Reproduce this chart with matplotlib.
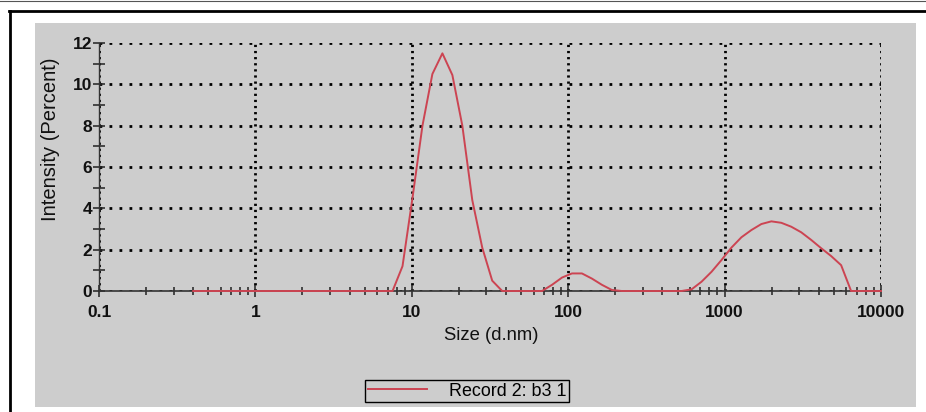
import matplotlib
matplotlib.use("Agg")
import matplotlib.pyplot as plt
from matplotlib.lines import Line2D
from matplotlib.patches import Rectangle
from matplotlib.ticker import FixedLocator, NullFormatter, MultipleLocator

plt.rcParams['font.family'] = ['Liberation Sans', 'DejaVu Sans']

# size bins (d.nm) and intensity (%)
sizes = [0.4, 0.4632, 0.5365, 0.6213, 0.7195, 0.8332, 0.9649, 1.117, 1.294, 1.499,
         1.736, 2.010, 2.328, 2.696, 3.122, 3.615, 4.187, 4.849, 5.615, 6.503,
         7.531, 8.721, 10.10, 11.70, 13.54, 15.69, 18.17, 21.04, 24.36, 28.21,
         32.67, 37.84, 43.82, 50.75, 58.77, 68.06, 78.82, 91.28, 105.7, 122.4,
         141.8, 164.2, 190.1, 220.2, 255.0, 295.3, 342.0, 396.1, 458.7, 531.2,
         615.1, 712.4, 825.0, 955.4, 1106, 1281, 1484, 1718, 1990, 2305,
         2669, 3091, 3580, 4145, 4801, 5560, 6439, 7456, 8635, 10000]
intensity = [0, 0, 0, 0, 0, 0, 0, 0, 0, 0,
             0, 0, 0, 0, 0, 0, 0, 0, 0, 0,
             0, 1.2, 4.5, 8.0, 10.5, 11.5, 10.45, 8.0, 4.4, 2.1,
             0.5, 0, 0, 0, 0, 0, 0.3, 0.65, 0.85, 0.85,
             0.6, 0.3, 0.05, 0, 0, 0, 0, 0, 0, 0,
             0.08, 0.45, 0.93, 1.5, 2.1, 2.6, 2.95, 3.24, 3.37, 3.3,
             3.11, 2.84, 2.47, 2.07, 1.69, 1.25, 0, 0, 0, 0]
series_name = "Record 2: b3 1"
x_ticks = [0.1, 1, 10, 100, 1000, 10000]
x_ticklabels = ["0.1", "1", "10", "100", "1000", "10000"]

W, H = 926, 412
fig = plt.figure(figsize=(W / 100, H / 100), dpi=100)
fig.patch.set_facecolor('white')

grey = '#cdcdcd'
# grey panel behind the axes
fig.patches.append(Rectangle((35 / W, 1 - 407 / H), (916 - 35) / W, (407 - 23) / H,
                             transform=fig.transFigure, facecolor=grey, edgecolor='none',
                             zorder=-5))
# outer frame lines
fig.lines.append(Line2D([9 / W, 1], [1 - 11 / H, 1 - 11 / H], transform=fig.transFigure,
                        color='black', lw=2.0, zorder=-4))
fig.lines.append(Line2D([9.5 / W, 9.5 / W], [0, 1 - 11 / H], transform=fig.transFigure,
                        color='black', lw=2.0, zorder=-4))
fig.lines.append(Line2D([0, 1], [1 - 1 / H, 1 - 1 / H], transform=fig.transFigure,
                        color='#555555', lw=0.8, zorder=-4))

ax = fig.add_axes([99 / W, 1 - 291 / H, (881 - 99) / W, (291 - 43) / H])
ax.set_facecolor(grey)
ax.set_xscale('log')
ax.set_xlim(0.1, 10000)
ax.set_ylim(0, 12)

line, = ax.plot(sizes, intensity, color='#cc4452', lw=1.4, zorder=3, clip_on=False)

ax.set_xticks(x_ticks)
ax.set_xticklabels(x_ticklabels)
ax.xaxis.set_minor_locator(FixedLocator([m * 10.0 ** e for e in range(-1, 4) for m in range(2, 10)]))
ax.xaxis.set_minor_formatter(NullFormatter())
ax.yaxis.set_major_locator(MultipleLocator(2))
ax.yaxis.set_minor_locator(MultipleLocator(1))

ax.tick_params(which='both', direction='inout', colors='#222222', labelcolor='#111111', width=1.1)
ax.tick_params(axis='y', which='major', length=8, labelsize=12.5, pad=1)
ax.tick_params(axis='y', which='minor', length=8)
ax.tick_params(axis='x', which='major', length=8, labelsize=12.5, pad=6)
ax.tick_params(axis='x', which='minor', length=6)
for lab in ax.get_xticklabels() + ax.get_yticklabels():
    lab.set_fontweight('bold')

for s in ['top', 'right']:
    ax.spines[s].set_visible(False)
ax.spines['left'].set_color('#333333')
ax.spines['bottom'].set_color('#333333')
ax.spines['left'].set_linewidth(1.0)
ax.spines['bottom'].set_linewidth(1.2)

ax.yaxis.grid(True, color='black', lw=2.0, linestyle=(0, (1, 2.6)), dash_capstyle='butt')
ax.xaxis.grid(True, which='major', color='black', lw=2.0, linestyle=(0, (0.8, 1.4)),
              dash_capstyle='butt')
ax.set_axisbelow(True)

ax.set_xlabel("Size (d.nm)", fontsize=13.3, color='#111111')
ax.xaxis.set_label_coords(0.501, -0.145)
ax.set_ylabel("Intensity (Percent)", fontsize=14.5, color='#111111')
ax.yaxis.set_label_coords(-0.05, 0.61)

leg = fig.legend([line], [series_name], loc='center', bbox_to_anchor=(467 / W, 1 - 391 / H),
                 fontsize=12.9, handlelength=3.3, handletextpad=1.2, fancybox=False,
                 frameon=True, borderpad=0.15, borderaxespad=0)
leg.get_frame().set_edgecolor('black')
leg.get_frame().set_facecolor(grey)
leg.get_frame().set_linewidth(1.0)
leg.get_frame().set_alpha(1)

fig.savefig("out.png", dpi=100, facecolor='white')
